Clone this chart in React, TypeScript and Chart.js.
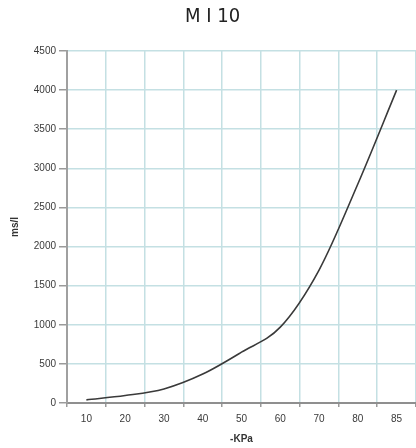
import React, { useEffect, useRef } from "react";
import { Chart, registerables } from "chart.js";

Chart.register(...registerables);

const titleText = "M I 10";
const categories = ["10", "20", "30", "40", "50", "60", "70", "80", "85"];
const values = [40, 95, 180, 370, 650, 970, 1700, 2800, 4000];
const xTitle = "-KPa";
const yTitle = "ms/l";
const yMin = 0;
const yMax = 4500;
const yStep = 500;

export default function App() {
  const ref = useRef<HTMLCanvasElement | null>(null);

  useEffect(() => {
    if (!ref.current) return;
    const gridColor = "#c4e0e3";
    const tickColor = "#9a9a9a";
    const chart = new Chart(ref.current, {
      type: "line",
      data: {
        labels: categories,
        datasets: [
          {
            data: values,
            borderColor: "#3a3a3a",
            borderWidth: 1.6,
            pointRadius: 0,
            cubicInterpolationMode: "monotone",
            fill: false,
          },
        ],
      },
      options: {
        responsive: false,
        animation: false,
        layout: { padding: { left: 9, right: 0, top: 0, bottom: 0 } },
        plugins: {
          legend: { display: false },
          tooltip: { enabled: false },
          title: {
            display: true,
            text: titleText,
            color: "#222",
            font: { family: "'DejaVu Sans Condensed', 'DejaVu Sans'", size: 20, weight: "normal" },
            padding: { top: 5, bottom: 22 },
          },
        },
        scales: {
          x: {
            type: "category",
            offset: true,
            grid: {
              offset: true,
              color: gridColor,
              lineWidth: 1.5,
              tickColor: tickColor,
              tickLength: 4,
              drawTicks: true,
            },
            border: { color: "#8f8f8f", width: 2 },
            ticks: {
              color: "#3a3a3a",
              font: { family: "'Liberation Sans', Arial", size: 10 },
              padding: 6,
              maxRotation: 0,
            },
            title: {
              display: true,
              text: xTitle,
              color: "#333",
              font: { family: "'Liberation Sans', Arial", size: 10, weight: "bold" },
              padding: { top: 0, bottom: 3 },
            },
            afterFit: (scale: any) => {
              scale.height = 45;
            },
          },
          y: {
            min: yMin,
            max: yMax,
            grid: {
              color: gridColor,
              lineWidth: 1.5,
              tickColor: tickColor,
              tickLength: 8,
            },
            border: { color: "#a0a0a0", width: 2 },
            ticks: {
              stepSize: yStep,
              color: "#3a3a3a",
              font: { family: "'Liberation Sans', Arial", size: 10 },
              padding: 3,
              callback: (v: any) => String(v),
            },
            title: {
              display: true,
              text: yTitle,
              color: "#333",
              font: { family: "'Liberation Sans', Arial", size: 10, weight: "bold" },
              padding: { top: 0, bottom: 0 },
            },
            afterFit: (scale: any) => {
              scale.width = 58;
            },
          },
        },
      },
    });
    return () => chart.destroy();
  }, []);

  return (
    <div style={{ position: "fixed", left: 0, top: 0, width: 416, height: 448, background: "#fff" }}>
      <canvas ref={ref} width={416} height={448} style={{ display: "block" }} />
    </div>
  );
}
